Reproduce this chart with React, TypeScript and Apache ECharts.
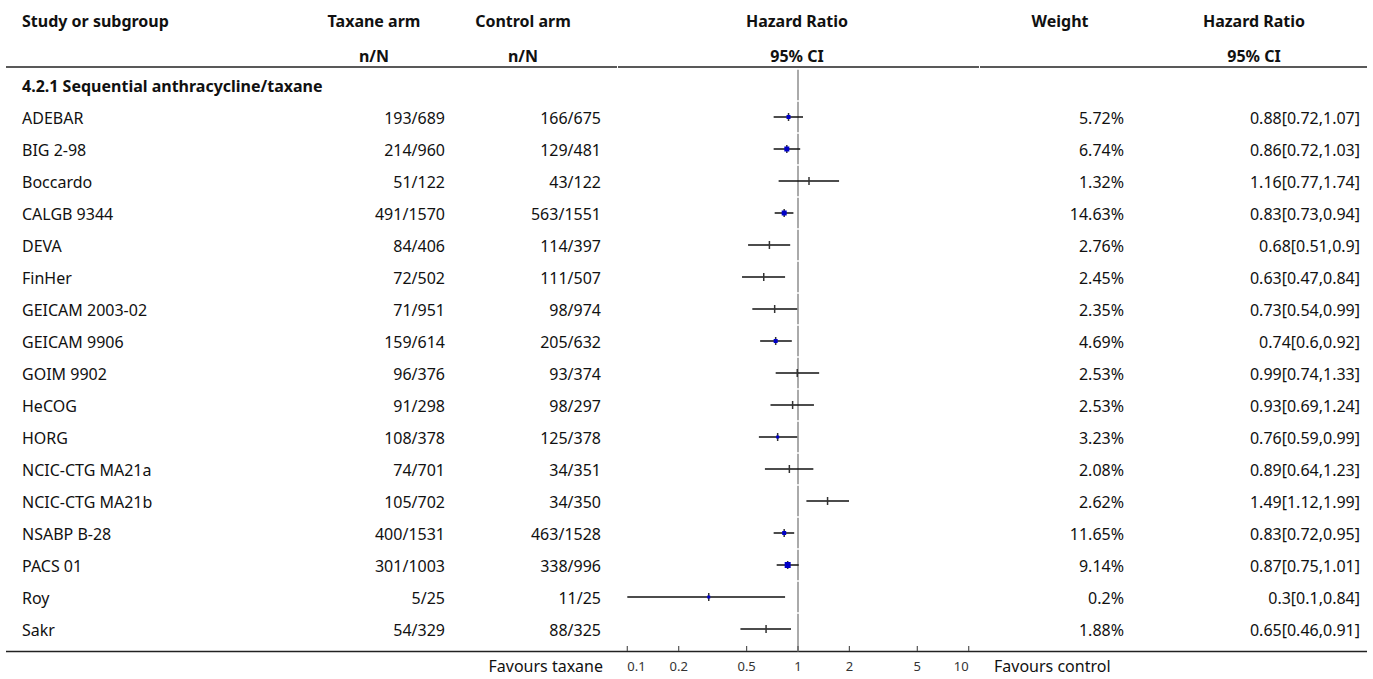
import React, { useEffect, useRef } from "react";
import * as echarts from "echarts";

// ---------- data ----------
const subgroupTitle = "4.2.1 Sequential anthracycline/taxane";
const studies = [
  "ADEBAR", "BIG 2-98", "Boccardo", "CALGB 9344", "DEVA", "FinHer", "GEICAM 2003-02",
  "GEICAM 9906", "GOIM 9902", "HeCOG", "HORG", "NCIC-CTG MA21a", "NCIC-CTG MA21b",
  "NSABP B-28", "PACS 01", "Roy", "Sakr",
];
const taxaneArm = [
  "193/689", "214/960", "51/122", "491/1570", "84/406", "72/502", "71/951", "159/614",
  "96/376", "91/298", "108/378", "74/701", "105/702", "400/1531", "301/1003", "5/25", "54/329",
];
const controlArm = [
  "166/675", "129/481", "43/122", "563/1551", "114/397", "111/507", "98/974", "205/632",
  "93/374", "98/297", "125/378", "34/351", "34/350", "463/1528", "338/996", "11/25", "88/325",
];
const hazardRatio = [0.88, 0.86, 1.16, 0.83, 0.68, 0.63, 0.73, 0.74, 0.99, 0.93, 0.76, 0.89, 1.49, 0.83, 0.87, 0.3, 0.65];
const ciLower = [0.72, 0.72, 0.77, 0.73, 0.51, 0.47, 0.54, 0.6, 0.74, 0.69, 0.59, 0.64, 1.12, 0.72, 0.75, 0.1, 0.46];
const ciUpper = [1.07, 1.03, 1.74, 0.94, 0.9, 0.84, 0.99, 0.92, 1.33, 1.24, 0.99, 1.23, 1.99, 0.95, 1.01, 0.84, 0.91];
const weights = [5.72, 6.74, 1.32, 14.63, 2.76, 2.45, 2.35, 4.69, 2.53, 2.53, 3.23, 2.08, 2.62, 11.65, 9.14, 0.2, 1.88];
const axisTickValues = [0.1, 0.2, 0.5, 1, 2, 5, 10];
const nullEffect = 1;

// ---------- styles ----------
const FONT = '"Noto Sans", sans-serif';
const boxPx = [4, 5, 0, 5, 0, 0, 0, 4, 0, 0, 3, 0, 0, 4, 6, 3, 0];
const LINE_COLOR = "#222";
const TEXT_COLOR = "#111";
const AXIS_OFFSET = 6;

const rows = [subgroupTitle, ...studies];

function txt(text: string, x: number, y: number, align: string, bold = false, size = 16) {
  return {
    type: "text",
    x,
    y,
    style: {
      text,
      x: 0,
      y: 0,
      align,
      verticalAlign: "middle",
      textAlign: align,
      textVerticalAlign: "middle",
      font: `${bold ? "bold " : ""}${size}px ${FONT}`,
      fill: TEXT_COLOR,
    },
  };
}

export default function App() {
  const ref = useRef<HTMLDivElement>(null);

  useEffect(() => {
    if (!ref.current) return;
    const chart = echarts.init(ref.current, null, { renderer: "svg" });

    const forestData = studies.map((_, i) => [ciLower[i], ciUpper[i], hazardRatio[i], i + 1]);
    const refData = rows.map((_, i) => [nullEffect, i]);
    const tableData = rows.map((_, i) => [nullEffect, i]);
    const tickData = axisTickValues.map((v) => [v, rows.length - 1]);

    const hline = (x1: number, x2: number, y: number) => ({
      type: "line",
      shape: { x1, y1: y, x2, y2: y },
      style: { stroke: LINE_COLOR, lineWidth: 1.5 },
    });

    const option: any = {
      animation: false,
      backgroundColor: "#fff",
      grid: { left: 627.3, right: 404.3, top: 69, height: 576, containLabel: false },
      xAxis: {
        type: "log",
        logBase: 10,
        min: 0.1,
        max: 10,
        offset: AXIS_OFFSET,
        axisLine: { show: false },
        splitLine: { show: false },
        minorTick: { show: false },
        axisTick: { show: false },
        axisLabel: {
          customValues: axisTickValues,
          formatter: (v: number) => String(Number(Number(v).toPrecision(6))),
          fontSize: 13,
          fontFamily: FONT,
          color: "#333",
          margin: 8,
          alignMinLabel: "left",
          alignMaxLabel: "right",
        },
      },
      yAxis: {
        type: "category",
        data: rows,
        inverse: true,
        show: false,
      },
      graphic: [
        txt("Study or subgroup", 22, 21, "left", true),
        txt("Taxane arm", 374, 21, "center", true),
        txt("n/N", 374, 56, "center", true),
        txt("Control arm", 523, 21, "center", true),
        txt("n/N", 523, 56, "center", true),
        txt("Hazard Ratio", 797, 21, "center", true),
        txt("95% CI", 797, 56, "center", true),
        txt("Weight", 1060, 21, "center", true),
        txt("Hazard Ratio", 1254, 21, "center", true),
        txt("95% CI", 1254, 56, "center", true),
        hline(6, 617, 67),
        hline(618, 979, 67),
        hline(980, 1367, 67),
        hline(6, 1367, 651.5),
        txt("Favours taxane", 603, 666, "right"),
        txt("Favours control", 994, 666, "left"),
      ],
      series: [
        {
          type: "custom",
          name: "ref",
          clip: false,
          z: 1,
          data: refData,
          encode: { x: 0, y: 1 },
          renderItem: (params: any, api: any) => {
            const p = api.coord([api.value(0), api.value(1)]);
            const band = api.size([0, 1])[1];
            const last = params.dataIndex === rows.length - 1;
            return {
              type: "line",
              shape: {
                x1: p[0],
                y1: p[1] - band / 2 + 0.7,
                x2: p[0],
                y2: p[1] + band / 2 - 0.7 + (last ? AXIS_OFFSET + 1 : 0),
              },
              style: { stroke: "#aaaaaa", lineWidth: 2 },
            };
          },
        },
        {
          type: "custom",
          name: "ticks",
          clip: false,
          z: 2,
          data: tickData,
          encode: { x: 0, y: 1 },
          renderItem: (params: any, api: any) => {
            const p = api.coord([api.value(0), api.value(1)]);
            const band = api.size([0, 1])[1];
            const yAxisLine = p[1] + band / 2 + AXIS_OFFSET;
            return {
              type: "line",
              shape: { x1: p[0], y1: yAxisLine - 5, x2: p[0], y2: yAxisLine },
              style: { stroke: "#555", lineWidth: 1.2 },
            };
          },
        },
        {
          type: "custom",
          name: "forest",
          clip: false,
          z: 3,
          data: forestData,
          encode: { x: [0, 1, 2], y: 3 },
          renderItem: (params: any, api: any) => {
            const i = params.dataIndex;
            const row = api.value(3);
            const pLo = api.coord([api.value(0), row]);
            const pHi = api.coord([api.value(1), row]);
            const pC = api.coord([api.value(2), row]);
            const s = boxPx[i];
            const children: any[] = [
              {
                type: "line",
                shape: { x1: pLo[0], y1: pLo[1], x2: pHi[0], y2: pHi[1] },
                style: { stroke: "#111", lineWidth: 1.5 },
              },
              {
                type: "line",
                shape: { x1: pC[0], y1: pC[1] - 4, x2: pC[0], y2: pC[1] + 4 },
                style: { stroke: "#333", lineWidth: 1.5 },
              },
            ];
            if (s > 0) {
              children.push({
                type: "rect",
                shape: { x: pC[0] - s / 2, y: pC[1] - s / 2, width: s, height: s },
                style: { fill: "#0000c8" },
              });
            }
            return { type: "group", children };
          },
        },
        {
          type: "custom",
          name: "table",
          clip: false,
          z: 2,
          data: tableData,
          encode: { x: 0, y: 1 },
          renderItem: (params: any, api: any) => {
            const idx = params.dataIndex;
            const y = api.coord([api.value(0), api.value(1)])[1] + 1;
            if (idx === 0) {
              return { type: "group", children: [txt(rows[0], 22, y, "left", true)] };
            }
            const i = idx - 1;
            return {
              type: "group",
              children: [
                txt(studies[i], 22, y, "left"),
                txt(taxaneArm[i], 445, y, "right"),
                txt(controlArm[i], 601, y, "right"),
                txt(`${weights[i]}%`, 1124, y, "right"),
                txt(`${hazardRatio[i]}[${ciLower[i]},${ciUpper[i]}]`, 1360, y, "right"),
              ],
            };
          },
        },
      ],
    };

    chart.setOption(option);
    return () => chart.dispose();
  }, []);

  return (
    <div
      ref={ref}
      style={{ position: "fixed", left: 0, top: 0, width: 1373, height: 679, background: "#fff" }}
    />
  );
}
